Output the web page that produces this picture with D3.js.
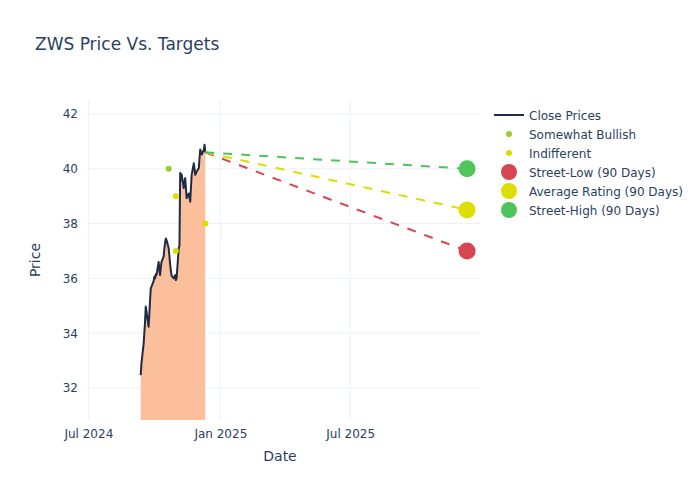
<!DOCTYPE html>
<html>
<head>
<meta charset="utf-8">
<script src="https://cdn.jsdelivr.net/npm/d3@7"></script>
<style>
  html, body { margin: 0; padding: 0; background: #fff; }
  svg { display: block; font-family: "DejaVu Sans", sans-serif; }
</style>
</head>
<body>
<svg id="chart" width="700" height="500"></svg>
<script>
// ---------- data ----------
const priceDates = [
  "2024-09-12","2024-09-13","2024-09-16","2024-09-17","2024-09-18","2024-09-19","2024-09-20",
  "2024-09-23","2024-09-24","2024-09-25","2024-09-26","2024-09-27","2024-09-30",
  "2024-10-01","2024-10-02","2024-10-03","2024-10-04","2024-10-07","2024-10-08","2024-10-09",
  "2024-10-10","2024-10-11","2024-10-14","2024-10-15","2024-10-16","2024-10-17","2024-10-18",
  "2024-10-21","2024-10-22","2024-10-23","2024-10-24","2024-10-25","2024-10-28","2024-10-29",
  "2024-10-30","2024-10-31","2024-11-01","2024-11-04","2024-11-05","2024-11-06","2024-11-07",
  "2024-11-08","2024-11-11","2024-11-12","2024-11-13","2024-11-14","2024-11-15","2024-11-18",
  "2024-11-19","2024-11-20","2024-11-21","2024-11-22","2024-11-25","2024-11-26","2024-11-27",
  "2024-11-29","2024-12-02","2024-12-03","2024-12-04","2024-12-05","2024-12-06","2024-12-09",
  "2024-12-10","2024-12-11"
];
const closePrices = [
  32.47, 32.9, 33.6, 34.0, 34.4, 34.97, 34.8,
  34.24, 34.7, 35.2, 35.64, 35.7, 35.9,
  36.06, 36.0, 36.15, 36.12, 36.6, 36.3, 36.12,
  36.4, 36.6, 36.8, 37.1, 37.3, 37.46, 37.4,
  37.1, 36.8, 36.5, 36.3, 36.1, 36.0, 36.05,
  36.12, 35.94, 36.0, 37.1, 37.2, 39.85, 39.6,
  39.8, 39.3, 39.5, 39.66, 39.3, 38.93, 39.1,
  38.95, 38.8, 39.3, 39.78, 40.2, 40.0, 39.78,
  39.9, 40.03, 40.4, 40.7, 40.6, 40.52, 40.7,
  40.88, 40.6
];

const bullishDates = ["2024-10-21"];
const bullishValues = [40];
const indifferentDates = ["2024-10-31", "2024-10-31", "2024-12-11"];
const indifferentValues = [39, 37, 38];

const targetStartDate = "2024-12-11";
const targetEndDate = "2025-12-11";
const targetNames = ["Street-Low (90 Days)", "Average Rating (90 Days)", "Street-High (90 Days)"];
const targetValues = [37, 38.5, 40];
const targetColors = ["#d64550", "#dddd00", "#4fc45a"];

const xTickDates = ["2024-07-01", "2025-01-01", "2025-07-01"];
const xTickLabels = ["Jul 2024", "Jan 2025", "Jul 2025"];
const yTicks = [32, 34, 36, 38, 40, 42];

// ---------- layout ----------
const textColor = "#2a3f5f";
const gridColor = "#ebf0f8";
const plot = { left: 88, right: 480, top: 100, bottom: 420 };
const parse = d3.utcParse("%Y-%m-%d");

const svg = d3.select("#chart");

const x = d3.scaleUtc()
  .domain([new Date(Date.UTC(2024, 5, 30, 12)), new Date(Date.UTC(2025, 11, 29))])
  .range([plot.left, plot.right]);
const y = d3.scaleLinear()
  .domain([30.832, 42.511])
  .range([plot.bottom, plot.top]);

// gridlines
const gGrid = svg.append("g");
gGrid.selectAll("line.xg").data(xTickDates).join("line")
  .attr("x1", d => x(parse(d))).attr("x2", d => x(parse(d)))
  .attr("y1", plot.top).attr("y2", plot.bottom)
  .attr("stroke", gridColor).attr("stroke-width", 1);
gGrid.selectAll("line.yg").data(yTicks).join("line")
  .attr("x1", plot.left).attr("x2", plot.right)
  .attr("y1", d => y(d)).attr("y2", d => y(d))
  .attr("stroke", gridColor).attr("stroke-width", 1);

// axes (text only)
const xAxis = d3.axisBottom(x)
  .tickValues(xTickDates.map(parse))
  .tickFormat((d, i) => xTickLabels[i])
  .tickSize(0).tickPadding(9);
const gx = svg.append("g").attr("transform", `translate(0,${plot.bottom})`).call(xAxis);
gx.select(".domain").remove();
gx.selectAll("text").attr("fill", textColor).style("font-size", "12px")
  .style("font-family", "DejaVu Sans, sans-serif");

const yAxis = d3.axisLeft(y).tickValues(yTicks).tickSize(0).tickPadding(10);
const gy = svg.append("g").attr("transform", `translate(${plot.left},0)`).call(yAxis);
gy.select(".domain").remove();
gy.selectAll("text").attr("fill", textColor).style("font-size", "12px")
  .style("font-family", "DejaVu Sans, sans-serif");

// clip
svg.append("clipPath").attr("id", "clip").append("rect")
  .attr("x", plot.left).attr("y", plot.top)
  .attr("width", plot.right - plot.left).attr("height", plot.bottom - plot.top);
const gPlot = svg.append("g").attr("clip-path", "url(#clip)");

const priceData = priceDates.map((d, i) => ({ date: parse(d), value: closePrices[i] }));

// area fill
const area = d3.area()
  .x(d => x(d.date))
  .y0(plot.bottom)
  .y1(d => y(d.value));
gPlot.append("path").datum(priceData)
  .attr("d", area)
  .attr("fill", "#fbbf9c");

// close line
const line = d3.line().x(d => x(d.date)).y(d => y(d.value));
gPlot.append("path").datum(priceData)
  .attr("d", line)
  .attr("fill", "none")
  .attr("stroke", "#1f2a44")
  .attr("stroke-width", 2)
  .attr("stroke-linejoin", "round");

// target dashed lines
const lastVal = closePrices[closePrices.length - 1];
targetValues.forEach((v, i) => {
  const pts = [
    { date: parse(targetStartDate), value: lastVal },
    { date: parse(targetEndDate), value: v }
  ];
  gPlot.append("path").datum(pts)
    .attr("d", line)
    .attr("fill", "none")
    .attr("stroke", targetColors[i])
    .attr("stroke-width", 2)
    .attr("stroke-dasharray", "9,9");
});

// analyst markers
gPlot.selectAll("circle.bull").data(bullishDates).join("circle")
  .attr("cx", d => x(parse(d)))
  .attr("cy", (d, i) => y(bullishValues[i]))
  .attr("r", 3).attr("fill", "#9acd32");
gPlot.selectAll("circle.indiff").data(indifferentDates).join("circle")
  .attr("cx", d => x(parse(d)))
  .attr("cy", (d, i) => y(indifferentValues[i]))
  .attr("r", 3).attr("fill", "#dddd00");

// target markers
gPlot.selectAll("circle.target").data(targetValues).join("circle")
  .attr("cx", () => x(parse(targetEndDate)))
  .attr("cy", d => y(d))
  .attr("r", 8.5)
  .attr("fill", (d, i) => targetColors[i]);

// title
svg.append("text").attr("x", 35).attr("y", 50)
  .attr("fill", textColor).style("font-size", "17px")
  .text("ZWS Price Vs. Targets");

// axis titles
svg.append("text").attr("x", (plot.left + plot.right) / 2 - 4).attr("y", 461)
  .attr("text-anchor", "middle").attr("fill", textColor).style("font-size", "14px")
  .text("Date");
svg.append("text")
  .attr("transform", `translate(40,${(plot.top + plot.bottom) / 2}) rotate(-90)`)
  .attr("text-anchor", "middle").attr("fill", textColor).style("font-size", "14px")
  .text("Price");

// legend
const legendItems = [
  { name: "Close Prices", type: "line", color: "#1f2a44" },
  { name: "Somewhat Bullish", type: "small", color: "#9acd32" },
  { name: "Indifferent", type: "small", color: "#dddd00" },
  { name: targetNames[0], type: "big", color: targetColors[0] },
  { name: targetNames[1], type: "big", color: targetColors[1] },
  { name: targetNames[2], type: "big", color: targetColors[2] }
];
const gLeg = svg.append("g");
legendItems.forEach((it, i) => {
  const cy = 115 + i * 19;
  if (it.type === "line") {
    gLeg.append("line").attr("x1", 494).attr("x2", 524).attr("y1", cy).attr("y2", cy)
      .attr("stroke", it.color).attr("stroke-width", 2);
  } else {
    gLeg.append("circle").attr("cx", 509).attr("cy", cy)
      .attr("r", it.type === "small" ? 3 : 8).attr("fill", it.color);
  }
  gLeg.append("text").attr("x", 529).attr("y", cy + 4.5)
    .attr("fill", textColor).style("font-size", "12px").text(it.name);
});
</script>
</body>
</html>
